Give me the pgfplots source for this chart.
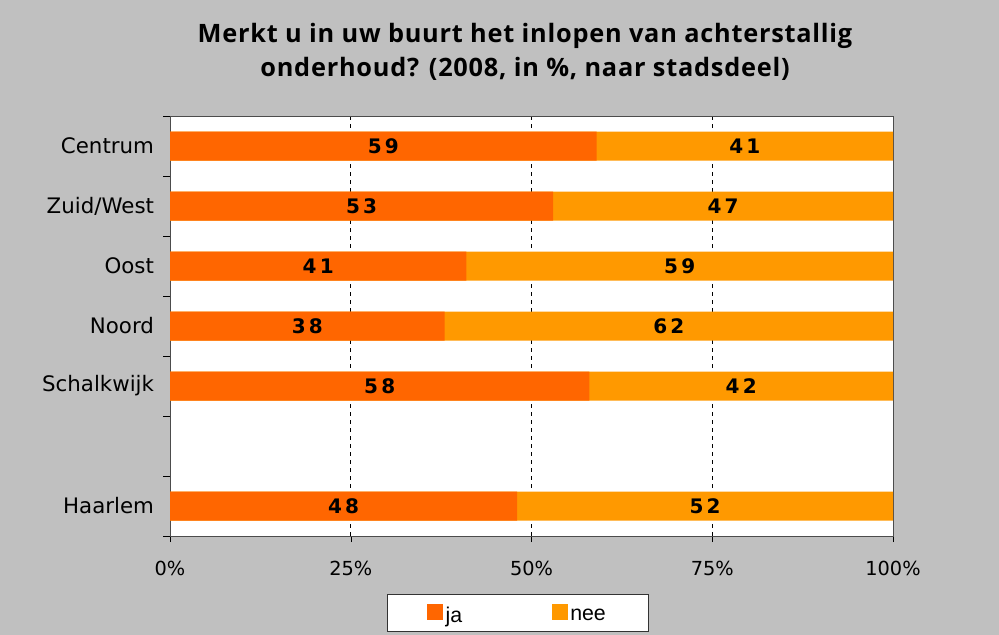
\documentclass[border=0pt]{standalone}
\usepackage{pgfplots}
\pgfplotsset{compat=1.18}
\usepackage{pgfplotstable}
\usepackage{fontspec}
\setmainfont{DejaVu Sans}
\newfontfamily\titlefont{Open Sans}[LetterSpace=3]
\newfontfamily\lblfont{DejaVu Sans}[LetterSpace=16]
\newfontfamily\legfont{Liberation Sans}
\definecolor{bg}{HTML}{C0C0C0}
\definecolor{ja}{HTML}{FF6600}
\definecolor{nee}{HTML}{FF9900}

\pgfplotstableread{
idx ja nee
0 59 41
1 53 47
2 41 59
3 38 62
4 58 42
6 48 52
}\data

\begin{document}
\begin{tikzpicture}
\fill[bg] (0pt,0pt) rectangle (749.25pt,476.25pt);
\node[font=\titlefont\bfseries\fontsize{19}{25.5}\selectfont, align=center] at (393.75pt,437.5pt) {Merkt u in uw buurt het inlopen van achterstallig\\onderhoud? (2008, in \%, naar stadsdeel)};
\begin{axis}[at={(127.5pt,74.25pt)}, anchor=south west, scale only axis, width=542.25pt, height=315pt,
 xmin=0, xmax=100, ymin=-0.5, ymax=6.5, y dir=reverse,
 axis background/.style={fill=white},
 axis line style={gray!60!black},
 xtick={0,25,50,75,100}, xticklabels={0\%,25\%,50\%,75\%,100\%},
 ytick={0,1,2,3,4,6}, yticklabels={Centrum,Zuid/West,Oost,Noord,Schalkwijk,Haarlem},
 major y tick style={draw=none},
 minor ytick={-0.5,0.5,...,6.5},
 minor y tick style={black},
 major x tick style={black},
 tick align=outside, xtick pos=bottom, ytick pos=left,
 xmajorgrids, major x grid style={black, dashed},
 minor tick length=5pt, major tick length=4.5pt,
 yticklabel style={font=\fontsize{16}{18}\selectfont, xshift=-4pt},
 xticklabel style={font=\fontsize{14.5}{17}\selectfont, yshift=-11pt},
 legend style={at={(0.481,-0.183)}, anchor=center, draw=gray!40!black, fill=white,
   font=\legfont\fontsize{16}{18}\selectfont, /tikz/every even column/.append style={column sep=65pt},
   inner xsep=30pt, inner ysep=3.5pt},
 legend columns=2,
 legend image code/.code={\fill[#1] (0pt,-3.5pt) rectangle (12pt,8.5pt); \path (0pt,12.5pt);},
]
\addplot[xbar, bar width=21.75pt, bar shift=0pt, fill=nee, draw=none, forget plot] table[x expr=\thisrow{ja}+\thisrow{nee}, y=idx]{\data};
\addplot[xbar, bar width=21.75pt, bar shift=0pt, fill=ja, draw=none, forget plot] table[x=ja, y=idx]{\data};
\addplot[draw=none, nodes near coords, point meta=explicit symbolic, nodes near coords style={font=\lblfont\bfseries\fontsize{15}{17}\selectfont, anchor=center, text=black}, forget plot] table[x expr=\thisrow{ja}/2, y=idx, meta=ja]{\data};
\addplot[draw=none, nodes near coords, point meta=explicit symbolic, nodes near coords style={font=\lblfont\bfseries\fontsize{15}{17}\selectfont, anchor=center, text=black}, forget plot] table[x expr=\thisrow{ja}+\thisrow{nee}/2, y=idx, meta=nee]{\data};
\addlegendimage{fill=ja, draw=none}
\addlegendentry{ja}
\addlegendimage{fill=nee, draw=none}
\addlegendentry{nee}
\end{axis}
\end{tikzpicture}
\end{document}
